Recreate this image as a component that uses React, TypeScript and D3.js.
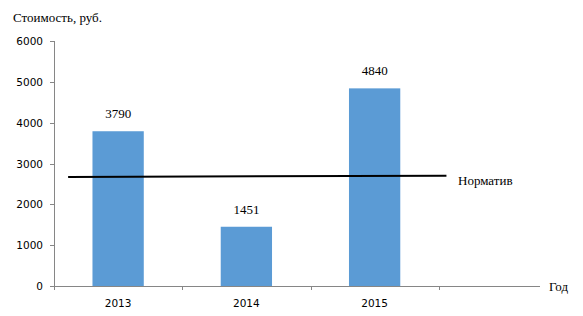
import React, { useEffect, useRef } from 'react'
import * as d3 from 'd3'

const years = ['2013', '2014', '2015', '']
const costs = [3790, 1451, 4840]
const yTicks = [0, 1000, 2000, 3000, 4000, 5000, 6000]
// norm line runs from just inside the first category to just past the third
const normPos = [0.11, 3.06]
const normValues = [2670, 2700]
const normLabel = 'Норматив'

export default function App() {
  const svgRef = useRef<SVGSVGElement>(null)

  useEffect(() => {
    if (!svgRef.current) return
    const svg = d3.select(svgRef.current)
    svg.selectAll('*').remove()

    const serif = '"Liberation Serif", "Times New Roman", serif'
    const sans = '"DejaVu Sans", Verdana, sans-serif'
    const left = 54
    const bottom = 286

    const x = d3.scaleBand().domain(years).range([left, 567]).paddingInner(0).paddingOuter(0)
    const xi = d3.scaleLinear().domain([0, years.length]).range([left, 567])
    const y = d3.scaleLinear().domain([0, 6000]).range([bottom, 41])

    // y axis
    svg.append('line')
      .attr('x1', left + 0.5).attr('x2', left + 0.5)
      .attr('y1', y(6000)).attr('y2', bottom + 4)
      .attr('stroke', '#868686')
    yTicks.forEach(t => {
      svg.append('line')
        .attr('x1', left - 4).attr('x2', left)
        .attr('y1', Math.round(y(t)) + 0.5).attr('y2', Math.round(y(t)) + 0.5)
        .attr('stroke', '#868686')
      svg.append('text')
        .attr('x', 43).attr('y', y(t) + 4)
        .attr('text-anchor', 'end')
        .attr('font-family', sans).attr('font-size', 10.5)
        .text(t)
    })

    // x axis
    svg.append('line')
      .attr('x1', left).attr('x2', 540)
      .attr('y1', bottom + 0.5).attr('y2', bottom + 0.5)
      .attr('stroke', '#868686')
    years.slice(1).forEach(c => {
      const px = Math.round(x(c)!) + 0.5
      svg.append('line')
        .attr('x1', px).attr('x2', px)
        .attr('y1', bottom).attr('y2', bottom + 4)
        .attr('stroke', '#868686')
    })
    years.forEach(c => {
      if (!c) return
      svg.append('text')
        .attr('x', x(c)! + x.bandwidth() / 2).attr('y', 307)
        .attr('text-anchor', 'middle')
        .attr('font-family', sans).attr('font-size', 10.5)
        .text(c)
    })

    // bars
    const barW = x.bandwidth() * 0.4
    costs.forEach((v, i) => {
      const cx = x(years[i])! + x.bandwidth() / 2
      svg.append('rect')
        .attr('x', cx - barW / 2).attr('y', y(v))
        .attr('width', barW).attr('height', bottom - y(v))
        .attr('fill', '#5B9BD5')
      svg.append('text')
        .attr('x', cx).attr('y', y(v) - 13)
        .attr('text-anchor', 'middle')
        .attr('font-family', serif).attr('font-size', 13)
        .text(v)
    })

    // norm line
    svg.append('line')
      .attr('x1', xi(normPos[0])).attr('x2', xi(normPos[1]))
      .attr('y1', y(normValues[0])).attr('y2', y(normValues[1]))
      .attr('stroke', '#000').attr('stroke-width', 2)
    svg.append('text')
      .attr('x', 458).attr('y', 185)
      .attr('font-family', serif).attr('font-size', 13)
      .text(normLabel)

    // axis titles
    svg.append('text')
      .attr('x', 13).attr('y', 22)
      .attr('font-family', serif).attr('font-size', 13)
      .text('Стоимость, руб.')
    svg.append('text')
      .attr('x', 549).attr('y', 291)
      .attr('font-family', serif).attr('font-size', 13)
      .text('Год')
  }, [])

  return (
    <svg
      ref={svgRef}
      width={583}
      height={316}
      style={{ position: 'absolute', left: 0, top: 0, background: '#fff' }}
    />
  )
}
